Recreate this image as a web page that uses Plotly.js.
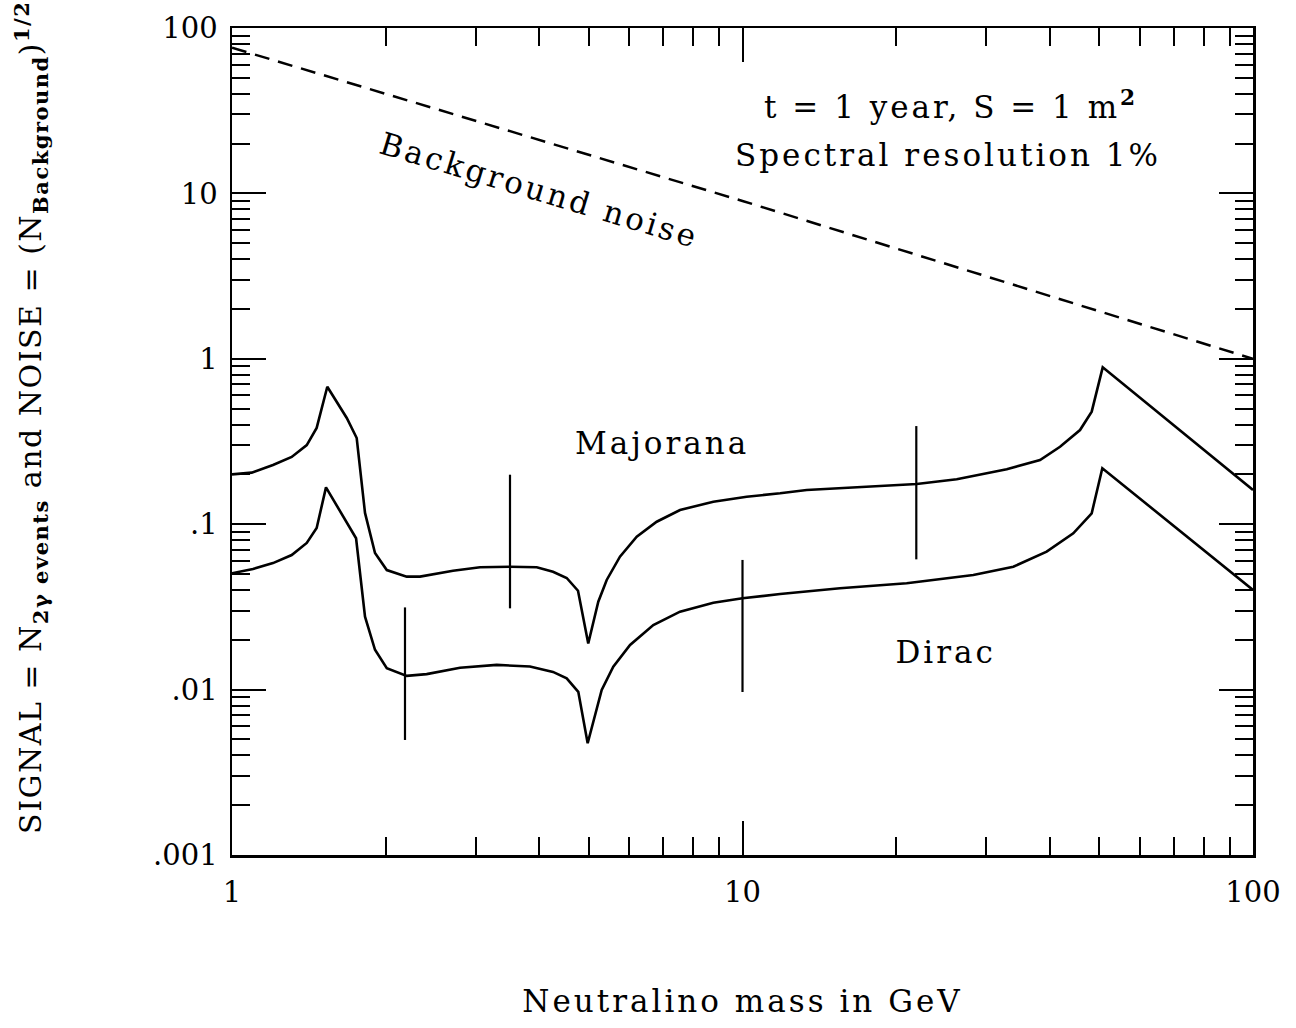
<!DOCTYPE html>
<html>
<head>
<meta charset="utf-8">
<script src="https://cdn.plot.ly/plotly-3.0.1.min.js"></script>
<style>
html,body{margin:0;padding:0;background:#fff;}
#chart{width:1296px;height:1028px;}
#chart .annotation-text, #chart .xtitle{letter-spacing:3px;}
#chart .annotation[data-index="5"] .annotation-text{letter-spacing:1.5px;}
</style>
</head>
<body>
<div id="chart"></div>
<script>
// Neutralino mass (GeV) and signal values
var majX = [1, 1.093, 1.203, 1.309, 1.401, 1.465, 1.537, 1.678, 1.755, 1.822, 1.906, 2.010, 2.199, 2.335, 2.710, 3.061, 3.504, 3.953, 4.254, 4.525, 4.762, 4.987, 5.218, 5.420, 5.754, 6.206, 6.791, 7.544, 8.767, 10.19, 11.85, 13.36, 21.94, 26.28, 32.93, 38.27, 41.88, 45.83, 48.31, 50.77, 100];
var majY = [0.200, 0.205, 0.228, 0.255, 0.301, 0.382, 0.678, 0.439, 0.332, 0.117, 0.0670, 0.0528, 0.0482, 0.0482, 0.0523, 0.0549, 0.0553, 0.0549, 0.0516, 0.0473, 0.0396, 0.0190, 0.0340, 0.0460, 0.0636, 0.0840, 0.1035, 0.1219, 0.1368, 0.1466, 0.1537, 0.1610, 0.1750, 0.1868, 0.2147, 0.2444, 0.294, 0.371, 0.479, 0.888, 0.161];

var dirX = [1, 1.099, 1.203, 1.309, 1.401, 1.465, 1.528, 1.652, 1.750, 1.822, 1.906, 2.010, 2.199, 2.406, 2.797, 3.300, 3.834, 4.254, 4.525, 4.768, 4.974, 5.299, 5.583, 6.022, 6.688, 7.544, 8.767, 10, 11.85, 15.52, 20.97, 28.32, 33.93, 39.43, 44.46, 48.31, 50.68, 100];
var dirY = [0.0505, 0.0536, 0.0582, 0.0651, 0.0770, 0.0948, 0.167, 0.111, 0.0822, 0.0276, 0.0174, 0.01345, 0.0121, 0.0124, 0.01356, 0.0141, 0.0138, 0.0128, 0.0117, 0.0097, 0.00474, 0.00994, 0.01376, 0.0186, 0.02458, 0.02958, 0.03352, 0.03565, 0.03784, 0.04097, 0.04393, 0.0493, 0.05534, 0.0682, 0.0881, 0.1164, 0.218, 0.040];

var bgX = [1, 10, 100];
var bgY = [76, 9.0, 1.0];

// vertical uncertainty bars
var barX  = [2.182, 3.504, 10, 21.9];
var barLo = [0.00496, 0.0310, 0.00967, 0.0613];
var barHi = [0.0314, 0.1992, 0.0608, 0.392];

var yTickVals = [0.001, 0.01, 0.1, 1, 10, 100];
var yTickText = [".001", ".01", ".1", "1", "10", "100"];
var xTickVals = [1, 10, 100];
var xTickText = ["1", "10", "100"];

var FONT = "DejaVu Serif, Liberation Serif, serif";

var bx = [], by = [];
for (var i = 0; i < barX.length; i++) {
  bx.push(barX[i], barX[i], null);
  by.push(barLo[i], barHi[i], null);
}

var traces = [
  {x: bgX, y: bgY, mode: 'lines', line: {color: 'black', width: 2.5, dash: '15px,9px'}, hoverinfo: 'skip', name: 'Background noise'},
  {x: majX, y: majY, mode: 'lines', line: {color: 'black', width: 2.6}, name: 'Majorana'},
  {x: dirX, y: dirY, mode: 'lines', line: {color: 'black', width: 2.6}, name: 'Dirac'},
  {x: bx, y: by, mode: 'lines', line: {color: 'black', width: 2.2}, name: 'bars', connectgaps: false}
];

var axisCommon = {
  type: 'log',
  showgrid: false,
  zeroline: false,
  showline: true,
  linecolor: 'black',
  linewidth: 2.5,
  mirror: 'allticks',
  ticks: 'inside',
  ticklen: 34,
  tickwidth: 2,
  tickcolor: 'black',
  tickmode: 'array',
  tickfont: {family: FONT, size: 29, color: 'black'},
  minor: {ticks: 'inside', ticklen: 18, tickwidth: 2, tickcolor: 'black', dtick: 'D1', showgrid: false}
};

var xaxis = Object.assign({}, axisCommon, {
  range: [0, 2],
  tickvals: xTickVals,
  ticktext: xTickText,
  ticklabelstandoff: 10,
  title: {text: 'Neutralino mass in GeV', font: {family: FONT, size: 31, color: 'black'}, standoff: 82}
});
var yaxis = Object.assign({}, axisCommon, {
  range: [-3, 2],
  tickvals: yTickVals,
  ticktext: yTickText,
  ticklabelstandoff: 6
});

var annFont = {family: FONT, size: 31, color: 'black'};
var layout = {
  width: 1296, height: 1028,
  margin: {l: 232, r: 43, t: 28, b: 173},
  paper_bgcolor: 'white', plot_bgcolor: 'white',
  showlegend: false,
  xaxis: xaxis, yaxis: yaxis,
  annotations: [
    {x: Math.log10(6.96), y: Math.log10(0.31), xref: 'x', yref: 'y', text: 'Majorana', showarrow: false, font: annFont},
    {x: Math.log10(25.0), y: Math.log10(0.0169), xref: 'x', yref: 'y', text: 'Dirac', showarrow: false, font: annFont},
    {x: Math.log10(4.0), y: Math.log10(10.5), xref: 'x', yref: 'y', text: 'Background noise', showarrow: false, textangle: 16.8, font: annFont},
    {x: Math.log10(25.6), y: Math.log10(34.2), xref: 'x', yref: 'y', text: 't = 1 year, S = 1 m<sup><b>2</b></sup>', showarrow: false, font: annFont},
    {x: Math.log10(25.3), y: Math.log10(17.1), xref: 'x', yref: 'y', text: 'Spectral resolution 1%', showarrow: false, font: annFont},
    {x: -0.197, y: 0.5296, xref: 'paper', yref: 'paper', xanchor: 'center', yanchor: 'middle', textangle: -90, showarrow: false,
     text: 'SIGNAL = N<sub><b>2γ events</b></sub> and NOISE = (N<sub><b>Background</b></sub>)<sup><b>1/2</b></sup>',
     font: {family: FONT, size: 30, color: 'black'}}
  ]
};

Plotly.newPlot('chart', traces, layout, {staticPlot: true, displayModeBar: false});
</script>
</body>
</html>
